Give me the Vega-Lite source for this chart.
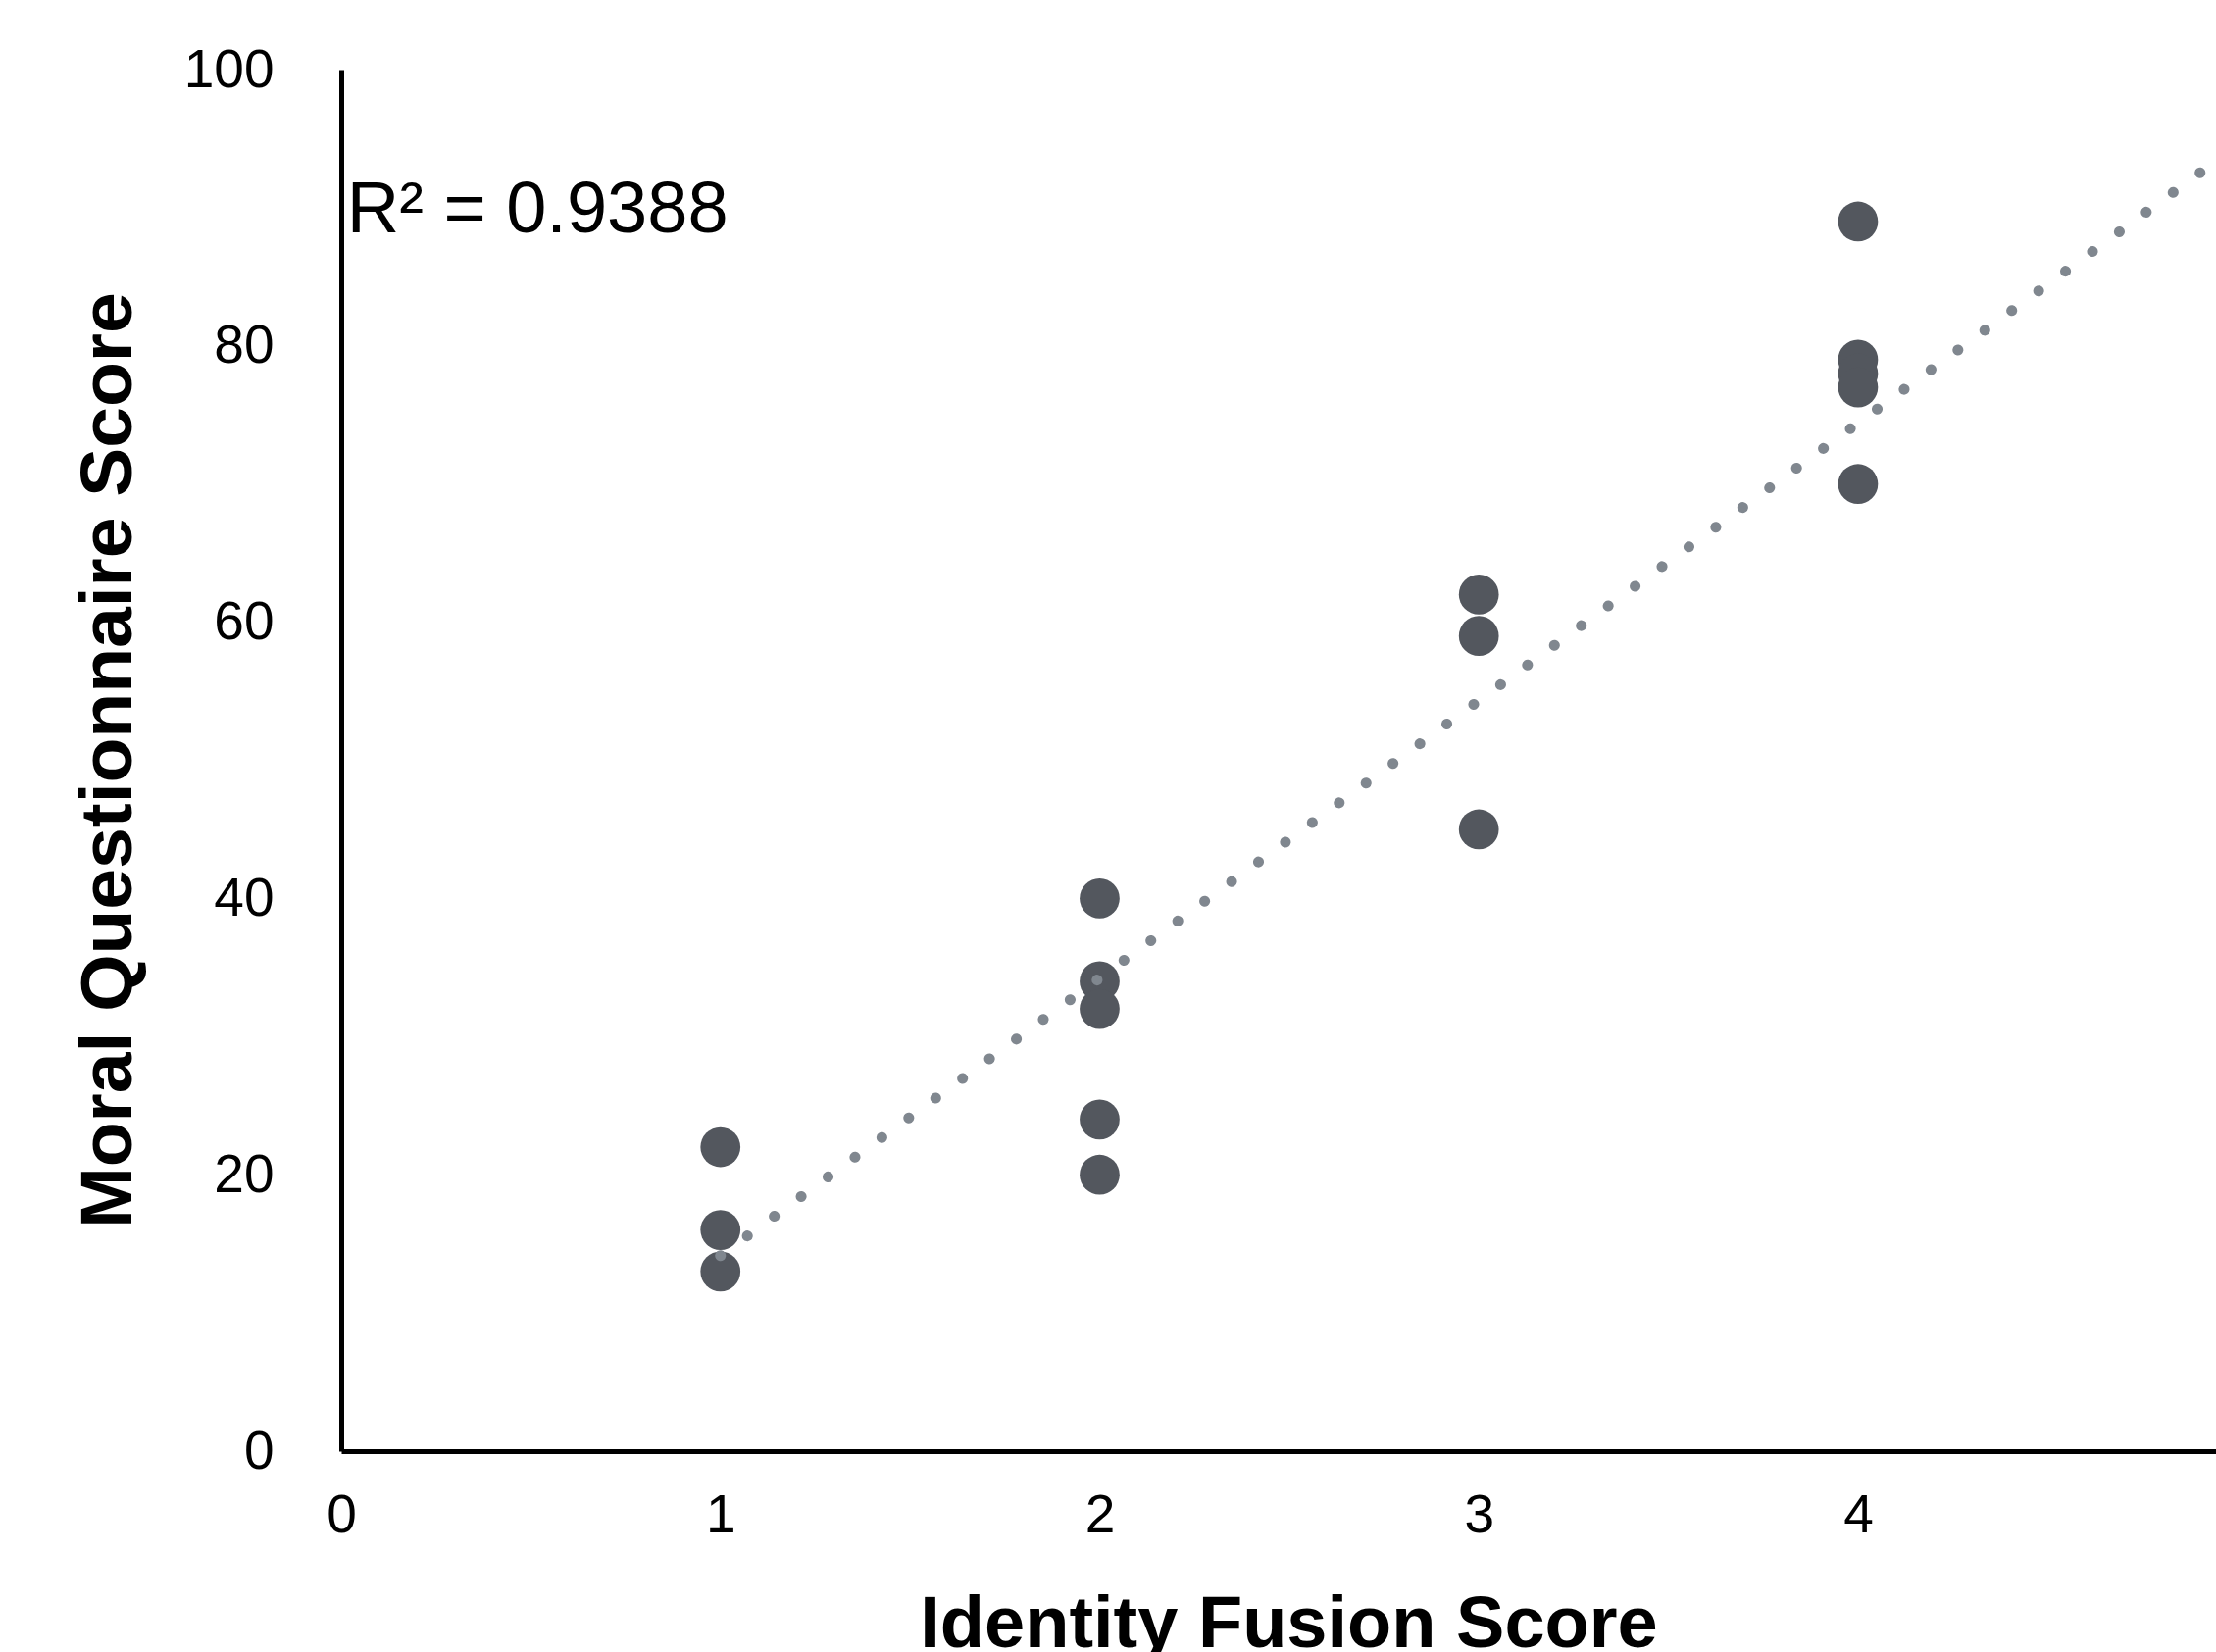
{
  "$schema": "https://vega.github.io/schema/vega-lite/v6.json",
  "width": 1912,
  "height": 1409,
  "autosize": {"type": "none"},
  "padding": {"left": 348, "top": 71, "right": 0, "bottom": 205},
  "background": "white",
  "config": {"view": {"stroke": null}, "font": "Liberation Sans"},
  "encoding": {
    "x": {
      "field": "x",
      "type": "quantitative",
      "scale": {"domain": [0, 4.944], "nice": false, "zero": false},
      "axis": {
        "values": [0, 1, 2, 3, 4],
        "ticks": false,
        "tickSize": 0,
        "grid": false,
        "domainColor": "black",
        "domainWidth": 5,
        "labelFontSize": 55,
        "labelColor": "black",
        "labelPadding": 39,
        "labelFlush": false,
        "labelOverlap": false,
        "title": "Identity Fusion Score",
        "titleFontSize": 74,
        "titleFontWeight": "bold",
        "titleColor": "black",
        "titleX": 966,
        "titleY": 199,
        "titleAlign": "center",
        "titleBaseline": "alphabetic"
      }
    },
    "y": {
      "field": "y",
      "type": "quantitative",
      "scale": {"domain": [0, 100], "nice": false},
      "axis": {
        "values": [0, 20, 40, 60, 80, 100],
        "ticks": false,
        "tickSize": 0,
        "grid": false,
        "domainColor": "black",
        "domainWidth": 5,
        "labelFontSize": 55,
        "labelColor": "black",
        "labelPadding": 69,
        "labelBaseline": "middle",
        "labelFlush": false,
        "labelOverlap": false,
        "title": "Moral Questionnaire Score",
        "titleFontSize": 75,
        "titleFontWeight": "bold",
        "titleColor": "black",
        "titleX": -215,
        "titleY": 704,
        "titleAngle": -90,
        "titleAlign": "center",
        "titleBaseline": "alphabetic"
      }
    }
  },
  "layer": [
    {
      "data": {
        "values": [
          {"x": 1, "y": 22}, {"x": 1, "y": 16}, {"x": 1, "y": 13},
          {"x": 2, "y": 40}, {"x": 2, "y": 34}, {"x": 2, "y": 32}, {"x": 2, "y": 24}, {"x": 2, "y": 20},
          {"x": 3, "y": 62}, {"x": 3, "y": 59}, {"x": 3, "y": 45},
          {"x": 4, "y": 89}, {"x": 4, "y": 79}, {"x": 4, "y": 78}, {"x": 4, "y": 77}, {"x": 4, "y": 70}
        ]
      },
      "mark": {"type": "circle", "size": 1660, "color": "#53575e", "opacity": 1}
    },
    {
      "data": {"values": [{"x": 1, "y": 14.14}, {"x": 5, "y": 94.5}]},
      "mark": {
        "type": "line",
        "clip": true,
        "color": "#80878f",
        "strokeWidth": 11,
        "strokeDash": [0.1, 33.9],
        "strokeCap": "round"
      }
    },
    {
      "data": {"values": [{"x": 0.015, "y": 88.2, "label": "R² = 0.9388"}]},
      "mark": {
        "type": "text",
        "align": "left",
        "baseline": "alphabetic",
        "fontSize": 74,
        "color": "black"
      },
      "encoding": {"text": {"field": "label", "type": "nominal"}}
    }
  ]
}
